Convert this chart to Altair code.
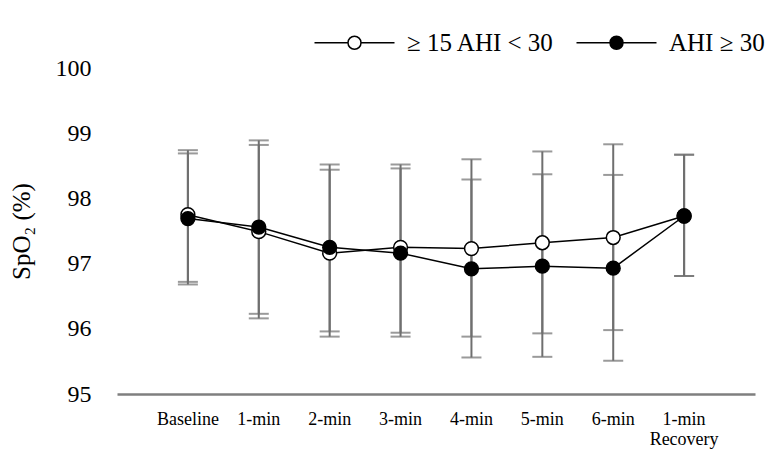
import altair as alt
import pandas as pd

times = ["Baseline", "1-min", "2-min", "3-min", "4-min", "5-min", "6-min", "1-min Recovery"]
groups = ["≥ 15 AHI < 30", "AHI ≥ 30"]

mod_mean = [97.75, 97.49, 97.16, 97.25, 97.23, 97.32, 97.40, 97.73]
mod_hi = [98.74, 98.82, 98.44, 98.52, 98.60, 98.72, 98.83, 98.67]
mod_lo = [96.72, 96.16, 95.88, 95.94, 95.88, 95.93, 95.98, 96.81]

sev_mean = [97.69, 97.56, 97.25, 97.16, 96.92, 96.96, 96.93, 97.73]
sev_hi = [98.69, 98.89, 98.52, 98.46, 98.29, 98.37, 98.36, 98.67]
sev_lo = [96.68, 96.23, 95.96, 95.88, 95.56, 95.57, 95.51, 96.81]

y_ticks = [95, 96, 97, 98, 99, 100]

rows = []
for g, m, h, l in [(groups[0], mod_mean, mod_hi, mod_lo), (groups[1], sev_mean, sev_hi, sev_lo)]:
    for t, mv, hv, lv in zip(times, m, h, l):
        rows.append({"time": t, "group": g, "mean": mv, "hi": hv, "lo": lv})
df = pd.DataFrame(rows)

FONT = "Liberation Serif"
GRAY = "#6f6f6f"

x = alt.X("time:N", sort=times, scale=alt.Scale(paddingInner=0, paddingOuter=0.5),
          axis=alt.Axis(title=None, labelAngle=0, ticks=False, grid=False, domainColor="#7f7f7f", domainWidth=2.5,
                        labelFont=FONT, labelFontSize=18, labelColor="black", labelPadding=16,
                        labelLineHeight=20,
                        labelExpr="datum.value == '1-min Recovery' ? ['1-min', 'Recovery'] : datum.label"))
yscale = alt.Scale(domain=[95, 100], nice=False, zero=False)
yaxis = alt.Axis(values=y_ticks, format="d", title="SpO₂ (%)", domain=False, ticks=False, grid=False,
                 labelFont=FONT, labelFontSize=24, labelColor="black", labelPadding=26,
                 titleFont=FONT, titleFontSize=25, titleFontWeight="normal", titleColor="black",
                 titlePadding=21)

base = alt.Chart(df)

rules = base.mark_rule(color=GRAY, strokeWidth=2).encode(
    x=x,
    y=alt.Y("lo:Q", scale=yscale, axis=yaxis),
    y2="hi:Q",
)
cap_hi = base.mark_tick(color=GRAY, thickness=2, size=20).encode(x=x, y=alt.Y("hi:Q", scale=yscale, axis=yaxis))
cap_lo = base.mark_tick(color=GRAY, thickness=2, size=20).encode(x=x, y=alt.Y("lo:Q", scale=yscale, axis=yaxis))

lines = base.mark_line(color="black", strokeWidth=1.5).encode(
    x=x, y=alt.Y("mean:Q", scale=yscale, axis=yaxis), detail="group:N"
)

legend_path = "M-4,0L-0.65,0M0.65,0L4,0M-0.65,0A0.65,0.65,0,1,1,0.65,0A0.65,0.65,0,1,1,-0.65,0Z"

points = base.mark_point(filled=True, shape="circle", size=190, stroke="black", strokeWidth=1.5, opacity=1).encode(
    x=x,
    y=alt.Y("mean:Q", scale=yscale, axis=yaxis),
    fill=alt.Fill("group:N", scale=alt.Scale(domain=groups, range=["white", "black"]),
                  legend=alt.Legend(title=None, orient="none", direction="horizontal",
                                    legendX=225, legendY=-38, padding=0,
                                    symbolType=legend_path, symbolSize=400,
                                    symbolStrokeColor="black", symbolStrokeWidth=1.5,
                                    labelFont=FONT, labelFontSize=25, labelColor="black",
                                    labelOffset=40, columnPadding=18, labelLimit=300)),
    order=alt.Order("group:N", sort="descending"),
)

chart = alt.layer(rules, cap_hi, cap_lo, lines, points).properties(
    width=638, height=326,
    autosize=alt.AutoSizeParams(type="none"),
    padding={"left": 109, "top": 60, "right": 20, "bottom": 62},
).configure(
    background="white",
    view=alt.ViewConfig(stroke="transparent", strokeWidth=0),
    axis=alt.AxisConfig(grid=False),
)

chart.save("out.html", embed_options={"renderer": "svg", "actions": False})
